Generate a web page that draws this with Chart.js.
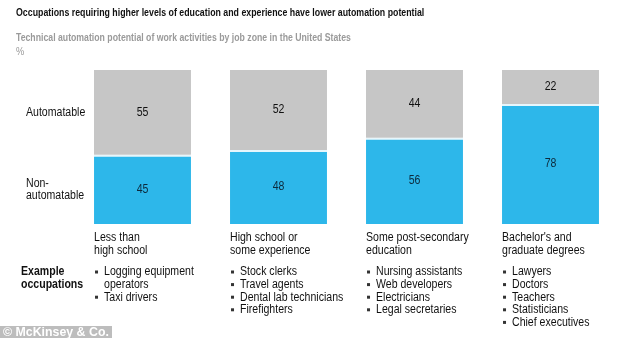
<!DOCTYPE html>
<html>
<head>
<meta charset="utf-8">
<script src="https://cdn.jsdelivr.net/npm/chart.js@4.4.1/dist/chart.umd.min.js"></script>
<style>
  html, body { margin: 0; padding: 0; background: #fff; }
  #wrap { width: 630px; height: 338px; position: relative; }
</style>
</head>
<body>
<div id="wrap"><canvas id="grafica" width="630" height="338"></canvas></div>
<script>
// DATOS
const categorias = [
    ["Less than", "high school"],
    ["High school or", "some experience"],
    ["Some post-secondary", "education"],
    ["Bachelor's and", "graduate degrees"]
];
const noAutomatizable = [45, 48, 56, 78];
const automatizable = [55, 52, 44, 22];
const ejemplos = [
    [["Logging equipment", "operators"], ["Taxi drivers"]],
    [["Stock clerks"], ["Travel agents"], ["Dental lab technicians"], ["Firefighters"]],
    [["Nursing assistants"], ["Web developers"], ["Electricians"], ["Legal secretaries"]],
    [["Lawyers"], ["Doctors"], ["Teachers"], ["Statisticians"], ["Chief executives"]]
];

const FUENTE = "'Liberation Sans', Arial, sans-serif";
const SX = 0.88; // el original esta algo comprimido en horizontal

// texto comprimido en x
function texto(ctx, str, x, y, font, color, align, sx) {
    sx = sx || SX;
    ctx.save();
    ctx.font = font;
    ctx.fillStyle = color;
    ctx.textBaseline = "middle";
    ctx.textAlign = align || "left";
    ctx.scale(sx, 1);
    ctx.fillText(str, x / sx, y);
    ctx.restore();
}

// plugin para todos los textos
const textosPlugin = {
    id: "textos",
    afterDraw(chart) {
        const ctx = chart.ctx;
        const azul = chart.getDatasetMeta(0).data;
        const gris = chart.getDatasetMeta(1).data;

        // titulos
        texto(ctx, "Occupations requiring higher levels of education and experience have lower automation potential", 16, 13, "bold 11px " + FUENTE, "#111", "left", 0.8);
        texto(ctx, "Technical automation potential of work activities by job zone in the United States", 16, 38, "bold 10.5px " + FUENTE, "#9a9a9a", "left", 0.83);
        texto(ctx, "%", 16, 52, "10.5px " + FUENTE, "#9a9a9a");

        // etiquetas de la izquierda
        const yGris = (gris[0].y + gris[0].base) / 2;
        const yAzul = (azul[0].y + azul[0].base) / 2;
        texto(ctx, "Automatable", 26, yGris, "12px " + FUENTE, "#111");
        texto(ctx, "Non-", 26, yAzul - 6, "12px " + FUENTE, "#111");
        texto(ctx, "automatable", 26, yAzul + 6, "12px " + FUENTE, "#111");

        // valores dentro de las barras
        azul.forEach((b, i) => {
            texto(ctx, String(noAutomatizable[i]), b.x, (b.y + b.base) / 2, "12px " + FUENTE, "#0d2a3c", "center");
        });
        gris.forEach((b, i) => {
            texto(ctx, String(automatizable[i]), b.x, (b.y + b.base) / 2, "12px " + FUENTE, "#111", "center");
        });

        // categorias y ejemplos
        texto(ctx, "Example", 21, 272, "bold 12px " + FUENTE, "#111");
        texto(ctx, "occupations", 21, 285, "bold 12px " + FUENTE, "#111");
        azul.forEach((b, i) => {
            const izq = b.x - b.width / 2;
            texto(ctx, categorias[i][0], izq, 238, "12px " + FUENTE, "#111");
            texto(ctx, categorias[i][1], izq, 251, "12px " + FUENTE, "#111");
            let y = 272;
            ejemplos[i].forEach(item => {
                ctx.fillStyle = "#333";
                ctx.fillRect(izq + 1, y - 1.5, 3, 3);
                item.forEach(linea => {
                    texto(ctx, linea, izq + 10, y, "12px " + FUENTE, "#111");
                    y += 12.6;
                });
            });
        });

        // marca de agua
        ctx.fillStyle = "#bdbdbd";
        ctx.fillRect(0, 326, 112, 12);
        texto(ctx, "\u00a9 McKinsey & Co.", 3, 332.5, "bold 13px " + FUENTE, "#fff", "left", 0.95);
    }
};

new Chart(document.getElementById("grafica").getContext("2d"), {
    type: "bar",
    data: {
        labels: categorias,
        datasets: [
            {
                label: "Non-automatable",
                data: noAutomatizable,
                backgroundColor: "#2db7ea",
                borderColor: "#e6f6fc",
                borderWidth: { top: 2, left: 0, right: 0, bottom: 0 },
                borderSkipped: "start"
            },
            {
                label: "Automatable",
                data: automatizable,
                backgroundColor: "#c6c6c6",
                borderWidth: 0
            }
        ]
    },
    options: {
        responsive: false,
        animation: false,
        events: [],
        layout: { padding: { left: 74.5, right: 11.5, top: 70, bottom: 114 } },
        datasets: { bar: { categoryPercentage: 1, barPercentage: 0.713 } },
        scales: {
            x: { stacked: true, display: false },
            y: { stacked: true, display: false, min: 0, max: 100 }
        },
        plugins: { legend: { display: false }, tooltip: { enabled: false } }
    },
    plugins: [textosPlugin]
});
</script>
</body>
</html>
